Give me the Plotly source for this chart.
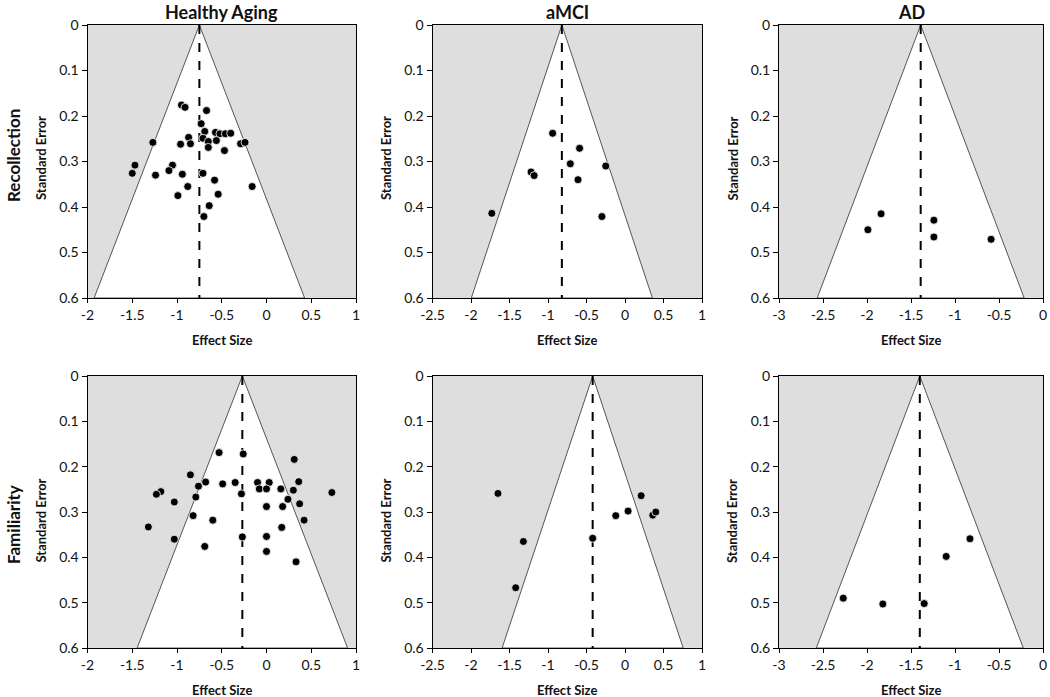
import plotly.graph_objects as go

# ---------------- data ----------------
columns = ["Healthy Aging", "aMCI", "AD"]
rows = ["Recollection", "Familiarity"]

ha_rec_es = [-0.95, -0.91, -0.67, -0.73, -0.69, -0.57, -0.52, -0.46, -0.40, -0.87, -0.71, -0.65,
             -0.56, -1.27, -0.96, -0.85, -0.65, -0.29, -0.24, -0.47, -1.47, -1.50, -1.05, -1.09,
             -1.24, -0.94, -0.71, -0.58, -0.88, -0.16, -0.54, -0.99, -0.64, -0.70]
ha_rec_se = [0.176, 0.181, 0.188, 0.217, 0.234, 0.236, 0.239, 0.239, 0.238, 0.247, 0.249, 0.256,
             0.254, 0.258, 0.262, 0.261, 0.269, 0.261, 0.258, 0.276, 0.308, 0.326, 0.308, 0.320,
             0.330, 0.328, 0.326, 0.341, 0.355, 0.355, 0.372, 0.375, 0.397, 0.421]

mci_rec_es = [-0.94, -0.59, -0.71, -0.25, -1.22, -1.18, -0.61, -1.73, -0.30]
mci_rec_se = [0.238, 0.271, 0.305, 0.310, 0.323, 0.331, 0.340, 0.414, 0.421]

ad_rec_es = [-1.84, -1.99, -1.24, -1.24, -0.59]
ad_rec_se = [0.415, 0.450, 0.429, 0.466, 0.471]

ha_fam_es = [-0.53, -0.26, 0.31, -0.85, -0.68, -0.76, -0.49, -0.35, -0.10, 0.03, -0.08, 0.00,
             0.16, 0.30, 0.36, 0.73, -1.18, -1.23, -0.28, -0.79, 0.24, -1.03, 0.37, 0.00,
             0.18, -0.82, -0.60, 0.42, -1.32, 0.17, -0.27, 0.00, -1.03, -0.69, 0.00, 0.33]
ha_fam_se = [0.169, 0.172, 0.184, 0.218, 0.234, 0.243, 0.238, 0.235, 0.235, 0.235, 0.249, 0.249,
             0.249, 0.252, 0.233, 0.257, 0.255, 0.261, 0.260, 0.267, 0.272, 0.278, 0.282, 0.288,
             0.288, 0.308, 0.318, 0.318, 0.333, 0.334, 0.355, 0.354, 0.360, 0.376, 0.387, 0.410]

mci_fam_es = [-1.65, 0.21, 0.04, -0.12, 0.36, 0.40, -1.32, -0.42, -1.42]
mci_fam_se = [0.259, 0.264, 0.298, 0.308, 0.307, 0.300, 0.365, 0.358, 0.467]

ad_fam_es = [-0.83, -1.10, -2.27, -1.82, -1.35]
ad_fam_se = [0.359, 0.398, 0.490, 0.503, 0.502]

# pooled mean effect sizes (apex of each funnel)
pooled_means = [-0.75, -0.82, -1.39, -0.27, -0.42, -1.40]

# tick values / labels (hyphen minus as in the original)
x_tickvals = [
    [-2, -1.5, -1, -0.5, 0, 0.5, 1],
    [-2.5, -2, -1.5, -1, -0.5, 0, 0.5, 1],
    [-3, -2.5, -2, -1.5, -1, -0.5, 0],
]
x_ticktext = [
    ["-2", "-1.5", "-1", "-0.5", "0", "0.5", "1"],
    ["-2.5", "-2", "-1.5", "-1", "-0.5", "0", "0.5", "1"],
    ["-3", "-2.5", "-2", "-1.5", "-1", "-0.5", "0"],
]
y_tickvals = [0, 0.1, 0.2, 0.3, 0.4, 0.5, 0.6]
y_ticktext = ["0", "0.1", "0.2", "0.3", "0.4", "0.5", "0.6"]

se_max = 0.6
z = 1.96

panels = [
    (ha_rec_es, ha_rec_se), (mci_rec_es, mci_rec_se), (ad_rec_es, ad_rec_se),
    (ha_fam_es, ha_fam_se), (mci_fam_es, mci_fam_se), (ad_fam_es, ad_fam_se),
]

# ---------------- layout geometry ----------------
W, H = 1050, 697
x_px = [(87.5, 356.0), (432.5, 702.0), (779.0, 1043.0)]
y_px = [(25.0, 298.0), (376.0, 648.0)]

FONT = "Lato, 'Open Sans', Arial, sans-serif"
GRAY = "#dedede"
TXT = "#111111"

fig = go.Figure()
layout = dict(
    width=W, height=H,
    autosize=False,
    margin=dict(l=0, r=0, t=0, b=0, pad=0, autoexpand=False),
    paper_bgcolor="white",
    plot_bgcolor=GRAY,
    showlegend=False,
    font=dict(family=FONT, color=TXT, size=14),
)

annotations = []
for i, (es, se) in enumerate(panels):
    r, c = divmod(i, 3)
    n = i + 1
    xa = "x" if n == 1 else f"x{n}"
    ya = "y" if n == 1 else f"y{n}"
    mean = pooled_means[i]

    # funnel (white triangle)
    fig.add_trace(go.Scatter(
        x=[mean - z * se_max, mean, mean + z * se_max, mean - z * se_max],
        y=[se_max, 0, se_max, se_max],
        mode="lines", fill="toself", fillcolor="white",
        line=dict(color="#555555", width=1),
        xaxis=xa, yaxis=ya, hoverinfo="skip",
    ))
    # dashed pooled-mean line
    fig.add_trace(go.Scatter(
        x=[mean, mean], y=[0, se_max], mode="lines",
        line=dict(color="black", width=2, dash="dash"),
        xaxis=xa, yaxis=ya, hoverinfo="skip",
    ))
    # study points
    fig.add_trace(go.Scatter(
        x=es, y=se, mode="markers",
        marker=dict(color="black", size=8, line=dict(color="white", width=0.8)),
        xaxis=xa, yaxis=ya,
    ))

    x0, x1 = x_px[c]
    y0, y1 = y_px[r]
    xkey = "xaxis" if n == 1 else f"xaxis{n}"
    ykey = "yaxis" if n == 1 else f"yaxis{n}"
    xr = [x_tickvals[c][0], x_tickvals[c][-1]]
    layout[xkey] = dict(
        domain=[x0 / W, x1 / W], anchor=ya, range=xr,
        tickmode="array", tickvals=x_tickvals[c], ticktext=x_ticktext[c],
        showgrid=False, zeroline=False, automargin=False,
        showline=True, linecolor="black", linewidth=1, mirror=True,
        ticks="outside", ticklen=4, tickcolor="black",
        tickfont=dict(size=14, family=FONT, color=TXT),
        ticklabeloverflow="allow",
        fixedrange=True,
    )
    layout[ykey] = dict(
        domain=[1 - y1 / H, 1 - y0 / H], anchor=xa, range=[se_max, 0],
        tickmode="array", tickvals=y_tickvals, ticktext=y_ticktext,
        showgrid=False, zeroline=False, automargin=False,
        showline=True, linecolor="black", linewidth=1, mirror=True,
        ticks="outside", ticklen=5, tickcolor="black",
        tickfont=dict(size=14, family=FONT, color=TXT),
        fixedrange=True,
    )

    # axis titles
    annotations.append(dict(
        text="<b>Effect Size</b>", x=(x0 + x1) / 2 / W, y=1 - (y1 + 42) / H,
        xref="paper", yref="paper", showarrow=False,
        font=dict(size=13, family=FONT, color=TXT),
        xanchor="center", yanchor="middle",
    ))
    annotations.append(dict(
        text="<b>Standard Error</b>", x=(x0 - 47) / W,
        y=1 - ((y0 + y1) / 2 + (-3 if r == 0 else 9)) / H,
        xref="paper", yref="paper", showarrow=False, textangle=-90,
        font=dict(size=13, family=FONT, color=TXT),
        xanchor="center", yanchor="middle",
    ))

# column titles
for c, name in enumerate(columns):
    x0, x1 = x_px[c]
    annotations.append(dict(
        text=f"<b>{name}</b>", x=(x0 + x1) / 2 / W, y=1 - 12 / H,
        xref="paper", yref="paper", showarrow=False,
        font=dict(size=18, family=FONT, color=TXT),
        xanchor="center", yanchor="middle",
    ))

# row titles
row_centers = [156, 525]
for r, name in enumerate(rows):
    annotations.append(dict(
        text=f"<b>{name}</b>", x=13 / W, y=1 - row_centers[r] / H,
        xref="paper", yref="paper", showarrow=False, textangle=-90,
        font=dict(size=17, family=FONT, color=TXT),
        xanchor="center", yanchor="middle",
    ))

layout["annotations"] = annotations
fig.update_layout(**layout)
fig.write_html(
    "out.html",
    config={"displayModeBar": False, "staticPlot": True},
    post_script="document.body.style.margin='0';document.body.style.overflow='hidden';",
)
